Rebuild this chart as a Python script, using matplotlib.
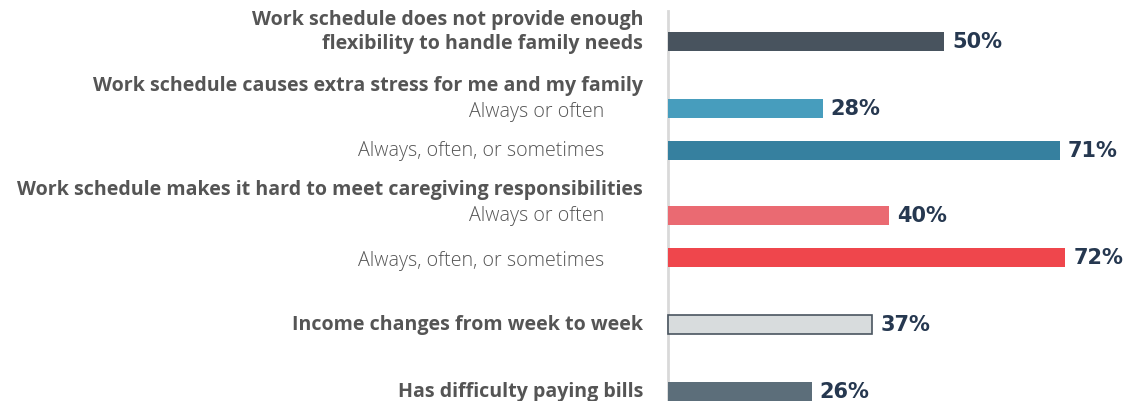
import numpy as np
import matplotlib
matplotlib.use("Agg")
import matplotlib.pyplot as plt

# data
labels = ["Work schedule does not provide enough\nflexibility to handle family needs",
          "Always or often", "Always, often, or sometimes",
          "Always or often", "Always, often, or sometimes",
          "Income changes from week to week",
          "Has difficulty paying bills"]
values = [50, 28, 71, 40, 72, 37, 26]
headers = ["Work schedule causes extra stress for me and my family",
           "Work schedule makes it hard to meet caregiving responsibilities"]
colors = ["#48535e", "#479dbd", "#36809f", "#ea6a72", "#ef464c", "#d8dcdd", "#5c6e7a"]
is_sub = [False, True, True, True, True, False, False]

# layout (pixel rows, top-down)
W, H = 1135, 402
ypos = [42, 109, 151, 216, 258, 325, 392]
label_y = [32, 112, 151, 216, 261, 325, 392]
header_y = [86, 190]
px = 5.52  # pixels per percent
x0 = 668

fig = plt.figure(figsize=(W / 100, H / 100), dpi=100)
ax = fig.add_axes([0, 0, 1, 1])
ax.set_xlim(-x0 / px, (W - x0) / px)
ax.set_ylim(H, 0)
ax.axis("off")

for y, v, c in zip(ypos, values, colors):
    light = c == "#d8dcdd"
    ax.barh(y, v, height=19, color=c, edgecolor="#4a5560" if light else c,
            linewidth=1.2 if light else 0)
    ax.text(v + 8 / px, y, f"{v}%", ha="left", va="center", fontsize=15,
            fontweight="bold", family="DejaVu Sans", color="#263850")

ax.plot([0, 0], [12, H], color="#d9d9d9", lw=2, zorder=0)

lab_col = "#555555"
fs = 14.1
for lab, y, sub in zip(labels, label_y, is_sub):
    if sub:
        ax.text(-64 / px, y, lab, ha="right", va="center", fontsize=fs,
                family="Open Sans", fontweight="light", color=lab_col)
    else:
        ax.text(-25 / px, y, lab, ha="right", va="center", fontsize=fs,
                family="Open Sans", fontweight="bold", color=lab_col,
                linespacing=1.2)
for h, y in zip(headers, header_y):
    ax.text(-25 / px, y, h, ha="right", va="center", fontsize=fs,
            family="Open Sans", fontweight="bold", color=lab_col)

fig.savefig("out.png", dpi=100)
